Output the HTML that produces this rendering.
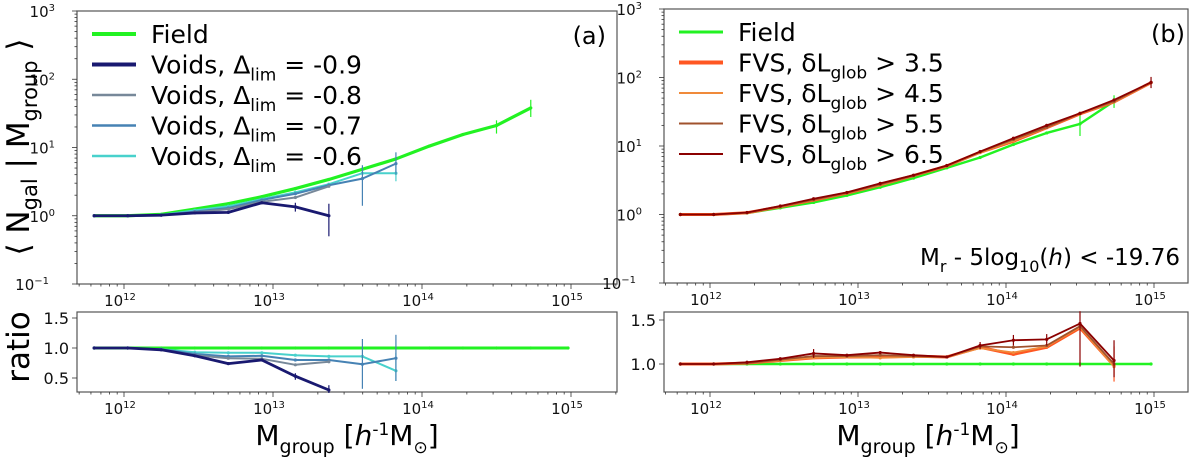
<!DOCTYPE html>
<html><head><meta charset="utf-8">
<style>
html,body{margin:0;padding:0;background:#fff;}
svg{display:block;font-family:"DejaVu Sans","Liberation Sans",sans-serif;}
</style></head>
<body>
<svg id="fig" width="1200" height="461" viewBox="0 0 1200 461" xmlns="http://www.w3.org/2000/svg"></svg>
<script>
// ---------- data ----------
const massLog = [11.8,12.025,12.25,12.475,12.7,12.925,13.15,13.375,13.6,13.825,14.05,14.275,14.5,14.73,14.98];
const fieldN = [1.0,1.0,1.05,1.25,1.5,1.9,2.5,3.4,4.8,6.8,10.5,15.5,21,38];
const fieldNb = [1.0,1.0,1.05,1.25,1.5,1.9,2.5,3.4,4.8,6.8,10.5,15.5,21,45];
const void09 = [1,1,1.02,1.1,1.12,1.55,1.35,1.0];
const void08 = [1,1,1.02,1.12,1.25,1.6,1.85,2.7];
const void07 = [1,1,1.02,1.15,1.3,1.7,2.1,2.8,3.5,5.8];
const void06 = [1,1,1.03,1.2,1.38,1.75,2.2,2.9,4.2,4.2];
const rVoid09 = [1,1,0.97,0.87,0.74,0.8,0.53,0.3];
const rVoid08 = [1,1,0.97,0.88,0.83,0.82,0.72,0.77];
const rVoid07 = [1,1,0.98,0.9,0.86,0.87,0.8,0.8,0.73,0.83];
const rVoid06 = [1,1,0.98,0.93,0.92,0.92,0.88,0.86,0.86,0.62];
const fvs35 = [1,1,1.06,1.3,1.62,2.05,2.7,3.7,5.1,8.1,11.7,18.5,29.5,44,84];
const fvs45 = [1,1,1.06,1.3,1.62,2.05,2.68,3.68,5.1,8.0,11.9,18.6,29.8,44,84];
const fvs55 = [1,1,1.06,1.31,1.64,2.07,2.75,3.7,5.15,8.2,12.5,18.8,30,45,85];
const fvs65 = [1,1,1.07,1.33,1.7,2.1,2.85,3.75,5.2,8.3,13,20,30,47,85];
const rFvs35 = [1,1,1.01,1.04,1.07,1.08,1.08,1.09,1.08,1.19,1.11,1.19,1.41,0.98];
const rFvs45 = [1,1,1.01,1.04,1.07,1.08,1.07,1.08,1.08,1.18,1.13,1.2,1.42,0.97];
const rFvs55 = [1,1,1.01,1.05,1.09,1.09,1.1,1.09,1.08,1.2,1.19,1.21,1.43,1.0];
const rFvs65 = [1,1,1.02,1.06,1.12,1.10,1.13,1.10,1.08,1.21,1.27,1.28,1.46,1.04];
const xTickExp = [12,13,14,15];
const yTickExp = [-1,0,1,2,3];
const ratioTicksA = [0.5,1.0,1.5];
const ratioTicksB = [1.0,1.5];

const NS="http://www.w3.org/2000/svg";
const svg=document.getElementById('fig');
function el(tag,attrs,parent){const e=document.createElementNS(NS,tag);for(const k in attrs)e.setAttribute(k,attrs[k]);(parent||svg).appendChild(e);return e;}

function panel(cfg){
  const g=el('g',{});
  
  
  const X=l=>cfg.x12+(l-12)*cfg.dec;
  const Y=v=>cfg.yb-(Math.log10(v)+1)/4*(cfg.yb-cfg.yt);
  const R=v=>cfg.r1-(v-1)*cfg.rs;
  const f1=el('rect',{x:cfg.xl,y:cfg.yt,width:cfg.xr-cfg.xl,height:cfg.yb-cfg.yt,fill:'none',stroke:'#555','stroke-width':1.2},g);
  
  const f2=el('rect',{x:cfg.xl,y:cfg.rt,width:cfg.xr-cfg.xl,height:cfg.rb-cfg.rt,fill:'none',stroke:'#555','stroke-width':1.2},g);
  
  for(let e=11;e<=15;e++){for(let m=1;m<10;m++){const l=e+Math.log10(m);const x=X(l);if(x<cfg.xl||x>cfg.xr)continue;
    const len=m===1?5:2.5;
    el('line',{x1:x,x2:x,y1:cfg.yb,y2:cfg.yb+len,stroke:'#333','stroke-width':0.8},g);
    el('line',{x1:x,x2:x,y1:cfg.rb,y2:cfg.rb+len,stroke:'#333','stroke-width':0.8},g);}}
  xTickExp.forEach(e=>{[cfg.yb+22,cfg.rb+22].forEach(yy=>{
    const t=el('text',{x:X(e)-4,y:yy,'font-size':15,'text-anchor':'middle',fill:'#111'},g);
    
    t.textContent='10';const s=el('tspan',{dy:-6,'font-size':10},t);s.textContent=String(e);});});
  for(let e=-1;e<=3;e++){for(let m=1;m<10;m++){const v=Math.pow(10,e)*m;if(v>1000)break;const y=Y(v);
    el('line',{x1:cfg.xl-(m===1?5:2.5),x2:cfg.xl,y1:y,y2:y,stroke:'#333','stroke-width':0.8},g);}}
  yTickExp.forEach(e=>{const t=el('text',{x:cfg.xl-22,y:Y(Math.pow(10,e))+6,'font-size':15,'text-anchor':'end',fill:'#111'},g);
    
    t.textContent='10';const s=el('tspan',{dy:-6,'font-size':10},t);s.textContent=String(e);
    if(e===-1){t.setAttribute('x',cfg.xl-28);s.textContent='−1';}});
  cfg.rticks.forEach(v=>{const y=R(v);el('line',{x1:cfg.xl-5,x2:cfg.xl,y1:y,y2:y,stroke:'#333','stroke-width':0.8},g);
    const t=el('text',{x:cfg.xl-8,y:y+6,'font-size':16,'text-anchor':'end',fill:'#111'},g);
    t.textContent=v.toFixed(1);});
  function series(vals,color,w,name,fn,errs){
    const pts=vals.map((v,i)=>[X(massLog[i]),fn(v)]);
    const p=el('polyline',{points:pts.map(p=>p.join(',')).join(' '),fill:'none',stroke:color,'stroke-width':w,'stroke-linejoin':'round'},g);
    
    pts.forEach(q=>el('circle',{cx:q[0],cy:q[1],r:1.6,fill:color},g));
    (errs||[]).forEach(([i,lo,hi])=>{const x=X(massLog[i]);el('line',{x1:x,x2:x,y1:fn(lo),y2:fn(hi),stroke:color,'stroke-width':1.2},g);});
  }
  cfg.series.forEach(s=>series(s[0],s[1],s[2],s[3],Y,s[4]));
  cfg.rseries.forEach(s=>series(s[0],s[1],s[2],s[3],R,s[4]));
  return {g,X,Y,R};
}

const A=panel({name:'panel-a',xl:77,xr:617,yt:11,yb:284,x12:124,dec:149,rt:312,rb:392,r1:348,rs:60,rticks:ratioTicksA,
 series:[
  [fieldN,'#22f222',3.2,'field-line-a',[[12,16,25],[13,28,50]]],
  [void06,'#48d1cc',2,'voids-06-line',[[9,3.2,5.5]]],
  [void07,'#4682b4',2,'voids-07-line',[[8,1.4,5.5],[9,4,8.5]]],
  [void08,'#778899',2,'voids-08-line',[]],
  [void09,'#191970',2.8,'voids-09-line',[[6,1.15,1.55],[7,0.5,1.5]]]],
 rseries:[
  [[1,1,1,1,1,1,1,1,1,1,1,1,1,1,1],'#22f222',3,'field-ratio-a',[]],
  [rVoid06,'#48d1cc',2,'voids-06-ratio',[[9,0.45,0.92]]],
  [rVoid07,'#4682b4',2,'voids-07-ratio',[[8,0.32,1.15],[9,0.45,1.22]]],
  [rVoid08,'#778899',2,'voids-08-ratio',[]],
  [rVoid09,'#191970',2.8,'voids-09-ratio',[[6,0.47,0.58],[7,0.25,0.38]]]]
});
const B=panel({name:'panel-b',xl:664,xr:1188,yt:9,yb:283,x12:710,dec:148,rt:312,rb:392,r1:364,rs:88,rticks:ratioTicksB,
 series:[
  [fieldNb,'#22f222',2.4,'field-line-b',[[12,14,30],[13,36,55]]],
  [fvs35,'#ff5722',3,'fvs-35-line',[]],
  [fvs45,'#f08a3a',1.8,'fvs-45-line',[]],
  [fvs55,'#a0522d',1.8,'fvs-55-line',[]],
  [fvs65,'#8b0000',1.8,'fvs-65-line',[[14,70,102]]]],
 rseries:[
  [[1,1,1,1,1,1,1,1,1,1,1,1,1,1,1],'#22f222',2.4,'field-ratio-b',[]],
  [rFvs35,'#ff5722',3,'fvs-35-ratio',[[13,0.8,1.2]]],
  [rFvs45,'#f08a3a',1.8,'fvs-45-ratio',[]],
  [rFvs55,'#a0522d',1.8,'fvs-55-ratio',[]],
  [rFvs65,'#8b0000',1.8,'fvs-65-ratio',[[4,1.07,1.17],[9,1.17,1.25],[10,1.21,1.33],[11,1.21,1.34],[12,0.97,1.6],[13,0.85,1.27]]]]
});

function legend(x,y0,items,name){
  const g=el('g',{});
  items.forEach((it,i)=>{const y=y0+i*30.5;
    el('line',{x1:x,x2:x+44,y1:y,y2:y,stroke:it[1],'stroke-width':it[2]},g);
    const t=el('text',{x:x+59,y:y+9,'font-size':25,fill:'#000'},g);
    
    t.innerHTML=it[0];});
}
legend(92,34,[['Field','#22f222',4],['Voids, Δ<tspan dy="7" font-size="17">lim</tspan><tspan dy="-7"> = -0.9</tspan>','#191970',4],
 ['Voids, Δ<tspan dy="7" font-size="17">lim</tspan><tspan dy="-7"> = -0.8</tspan>','#778899',2.5],
 ['Voids, Δ<tspan dy="7" font-size="17">lim</tspan><tspan dy="-7"> = -0.7</tspan>','#4682b4',2.5],
 ['Voids, Δ<tspan dy="7" font-size="17">lim</tspan><tspan dy="-7"> = -0.6</tspan>','#48d1cc',2.5]],'legend-a');
legend(679,32,[['Field','#22f222',3],['FVS, δL<tspan dy="7" font-size="17">glob</tspan><tspan dy="-7"> &gt; 3.5</tspan>','#ff5722',4],
 ['FVS, δL<tspan dy="7" font-size="17">glob</tspan><tspan dy="-7"> &gt; 4.5</tspan>','#f08a3a',2],
 ['FVS, δL<tspan dy="7" font-size="17">glob</tspan><tspan dy="-7"> &gt; 5.5</tspan>','#a0522d',2],
 ['FVS, δL<tspan dy="7" font-size="17">glob</tspan><tspan dy="-7"> &gt; 6.5</tspan>','#8b0000',2]],'legend-b');

function txt(x,y,s,size,name,anchor,extra){const t=el('text',Object.assign({x:x,y:y,'font-size':size,fill:'#000','text-anchor':anchor||'start'},extra||{}));
  t.innerHTML=s;return t;}
txt(606,44,'(a)',24,'panel-a-label','end');
txt(1185,42,'(b)',24,'panel-b-label','end');
txt(1180,265,'M<tspan dy="7" font-size="16">r</tspan><tspan dy="-7"> - 5log</tspan><tspan dy="7" font-size="16">10</tspan><tspan dy="-7">(</tspan><tspan font-style="italic">h</tspan>) &lt; -19.76',23,'magnitude-cut-note','end');
txt(0,0,'⟨ N<tspan dy="8" font-size="21">gal</tspan><tspan dy="-8"> | M</tspan><tspan dy="8" font-size="21">group</tspan><tspan dy="-8"> ⟩</tspan>',31,'y-axis-title','middle',{transform:'translate(29,147) rotate(-90)'});
txt(0,0,'ratio',31,'ratio-axis-title','middle',{transform:'translate(29,347) rotate(-90)'});
const xl='M<tspan dy="8" font-size="19">group</tspan><tspan dy="-8"> [</tspan><tspan font-style="italic">h</tspan><tspan dy="-10" font-size="17">-1</tspan><tspan dy="10">M</tspan><tspan dy="8" font-size="17">⊙</tspan><tspan dy="-8">]</tspan>';
txt(347,445,xl,28,'x-axis-title-a','middle');
txt(928,445,xl,28,'x-axis-title-b','middle');
</script>
</body></html>
